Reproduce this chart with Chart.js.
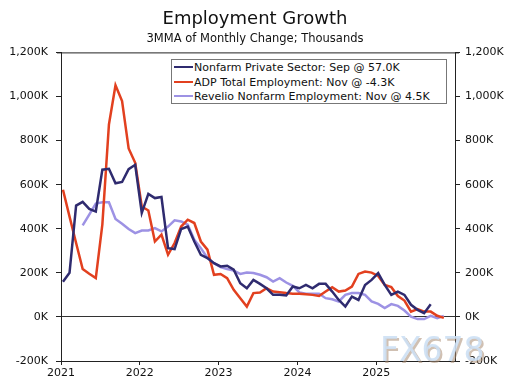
<!DOCTYPE html>
<html>
<head>
<meta charset="utf-8">
<script src="https://cdn.jsdelivr.net/npm/chart.js@4"></script>
<style>
  html, body { margin: 0; padding: 0; background: #fff; }
  #wrap { position: relative; width: 510px; height: 387px; }
  #legend {
    position: absolute; left: 171px; top: 59px; width: 276px; height: 45px;
    border: 1px solid #777; background: #fff; box-sizing: border-box;
    font: 11px "DejaVu Sans", Verdana, sans-serif; color: #111;
  }
  .row { position: absolute; left: 2px; height: 14px; line-height: 14px; white-space: nowrap; }
  .row i { display: inline-block; width: 19px; height: 2px; vertical-align: middle; margin-right: 1px; position: relative; top: -1px; }
</style>
</head>
<body>
<div id="wrap">
  <canvas id="chart" width="510" height="387"></canvas>
  <div id="legend"></div>
</div>
<script>
(function() {
    'use strict';

    // ---- data (3MMA of monthly change, thousands) ----
    const startYear = 2021;   // month index 0 = Jan 2021
    const yTicks = [-200, 0, 200, 400, 600, 800, 1000, 1200];
    const xTicks = [2021, 2022, 2023, 2024, 2025];

    const nonfarmStart = 0;
    const nonfarm = [160, 200, 505, 522, 490, 478, 668, 672, 606, 612, 670, 690,
        472, 558, 539, 544, 312, 308, 399, 410, 342, 282, 267, 244,
        229, 232, 214, 153, 130, 168, 150, 130, 100, 100, 97, 138,
        130, 145, 130, 150, 150, 115, 77, 47, 92, 77, 145, 168,
        199, 145, 100, 115, 100, 55, 32, 17, 57];

    const adpStart = 0;
    const adp = [577, 455, 335, 217, 196, 176, 420, 873, 1051, 979, 764, 699,
        501, 483, 342, 373, 282, 335, 410, 441, 426, 342, 305, 191,
        195, 176, 123, 85, 47, 108, 111, 130, 115, 112, 108, 105,
        105, 103, 100, 95, 115, 135, 115, 120, 138, 195, 206, 201,
        186, 145, 135, 95, 74, 24, 35, 24, 24, 5, -4.3];

    const revelioStart = 3;
    const revelio = [415, 464, 514, 520, 520, 444, 423, 399, 380,
        392, 392, 403, 388, 410, 438, 433, 418, 350, 312, 267, 244,
        226, 217, 210, 195, 201, 199, 191, 180, 160, 176, 156, 141,
        111, 105, 105, 105, 85, 80, 70, 100, 108, 108, 100, 70, 59,
        40, 58, 50, 29, 1, -10, -10, 5, -6, 4.5];

    const series = [
        { label: 'Nonfarm Private Sector: Sep @ 57.0K', values: nonfarm, start: nonfarmStart, color: '#2f2b6f' },
        { label: 'ADP Total Employment: Nov @ -4.3K', values: adp, start: adpStart, color: '#e2401f' },
        { label: 'Revelio Nonfarm Employment: Nov @ 4.5K', values: revelio, start: revelioStart, color: '#9d92e4' }
    ];

    // month index -> fractional year on the x scale
    function toPoints(values, start) {
        return values.map((v, i) => ({ x: startYear + (start + i + 0.3) / 12, y: v }));
    }

    function fmtK(v) {
        return v.toLocaleString('en-US') + 'K';
    }

    const FONT = '"DejaVu Sans", Verdana, sans-serif';
    const AXIS = '#222';

    // top frame line + watermark
    const extras = {
        id: 'extras',
        afterDraw(chart) {
            const ctx = chart.ctx;
            const a = chart.chartArea;
            ctx.save();
            ctx.strokeStyle = AXIS;
            ctx.lineWidth = 1;
            ctx.beginPath();
            ctx.moveTo(a.left - 4, a.top + 0.5);
            ctx.lineTo(a.right + 4, a.top + 0.5);
            ctx.stroke();

            ctx.font = '33px ' + FONT;
            ctx.textAlign = 'left';
            ctx.textBaseline = 'alphabetic';
            ctx.fillStyle = 'rgba(170,140,115,0.55)';
            ctx.fillText('FX678', 382, 363);
            ctx.fillStyle = 'rgba(205,224,244,0.9)';
            ctx.fillText('FX678', 380, 361);
            ctx.restore();
        }
    };

    const yScale = (pos, width, pad) => ({
        type: 'linear',
        position: pos,
        min: -200,
        max: 1200,
        afterFit(s) { s.width = width; },
        afterBuildTicks(s) { s.ticks = yTicks.map(v => ({ value: v })); },
        border: { display: true, color: AXIS, width: 1 },
        grid: {
            drawOnChartArea: pos === 'left',
            color: ctx => (ctx.tick && ctx.tick.value === 0) ? '#333' : 'rgba(0,0,0,0)',
            tickColor: AXIS,
            tickLength: 5
        },
        ticks: {
            color: '#111',
            padding: pad,
            font: { family: FONT, size: 11 },
            callback: v => fmtK(v)
        }
    });

    new Chart(document.getElementById('chart').getContext('2d'), {
        type: 'line',
        data: {
            datasets: series.map(s => ({
                label: s.label,
                data: toPoints(s.values, s.start),
                borderColor: s.color,
                backgroundColor: s.color,
                borderWidth: 2.5,
                pointRadius: 0,
                tension: 0,
                yAxisID: 'y'
            }))
        },
        options: {
            responsive: false,
            animation: false,
            events: [],
            layout: { padding: { left: 0, right: 0, top: 0, bottom: 0 } },
            scales: {
                x: {
                    type: 'linear',
                    min: 2021,
                    max: 2026,
                    afterFit(s) { s.height = 26; },
                    afterBuildTicks(s) { s.ticks = xTicks.map(v => ({ value: v })); },
                    border: { display: true, color: AXIS, width: 1 },
                    grid: { drawOnChartArea: false, tickColor: AXIS, tickLength: 4 },
                    ticks: {
                        color: '#111',
                        padding: 2,
                        maxRotation: 0,
                        font: { family: FONT, size: 11 },
                        callback: v => String(v)
                    }
                },
                y: yScale('left', 61, 8),
                y1: yScale('right', 55, 5)
            },
            plugins: {
                legend: { display: false },
                tooltip: { enabled: false },
                title: {
                    display: true,
                    text: 'Employment Growth',
                    color: '#111',
                    font: { family: FONT, size: 18, weight: 'normal' },
                    padding: { top: 9, bottom: 2 }
                },
                subtitle: {
                    display: true,
                    text: '3MMA of Monthly Change; Thousands',
                    color: '#111',
                    font: { family: FONT, size: 11.5, weight: 'normal' },
                    padding: { top: 0, bottom: 6 }
                }
            }
        },
        plugins: [extras]
    });

    // legend box
    const legend = document.getElementById('legend');
    series.forEach((s, i) => {
        const row = document.createElement('div');
        row.className = 'row';
        row.style.top = (1 + i * 14.5) + 'px';
        row.innerHTML = '<i style="background:' + s.color + '"></i>' + s.label;
        legend.appendChild(row);
    });
})();
</script>
</body>
</html>
